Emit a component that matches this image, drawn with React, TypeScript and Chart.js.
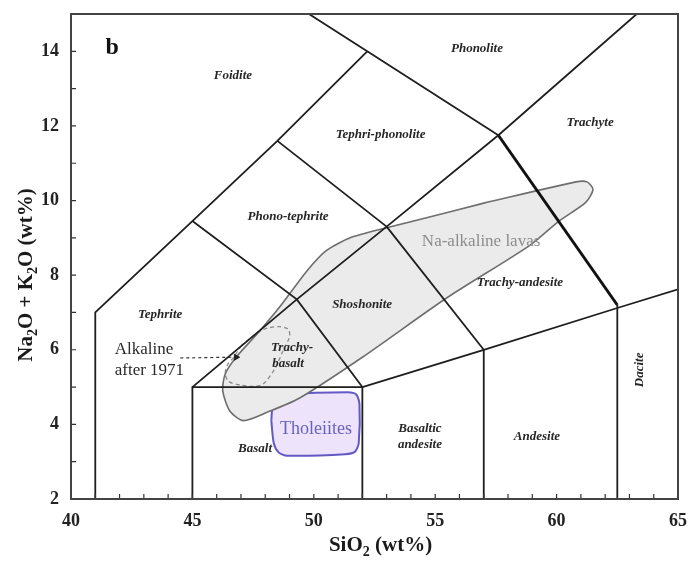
import React, { useEffect, useRef } from "react";
import { Chart, registerables } from "chart.js";

Chart.register(...registerables);

const SERIF = "'Liberation Serif', 'Times New Roman', serif";

// axes
const xTickValues = [40, 45, 50, 55, 60, 65];
const yTickValues = [2, 4, 6, 8, 10, 12, 14];
const xMinorTicks = [41, 42, 43, 44, 45, 46, 47, 48, 49, 50, 51, 52, 53, 54, 55, 56, 57, 58, 59, 60, 61, 62, 63, 64];
const yMinorTicks = [3, 4, 5, 6, 7, 8, 9, 10, 11, 12, 13, 14];

// TAS field boundaries (SiO2, Na2O+K2O)
const boundaryFoidite = [[41, 2], [41, 7], [45, 9.45], [48.5, 11.6], [52.2, 14]];
const boundaryPhonolite = [[49.8, 15], [52.2, 14], [57.6, 11.75]];
const boundaryPhonoTephrite = [[48.5, 11.6], [53, 9.3]];
const boundaryTephrite = [[45, 9.45], [49.3, 7.35], [52, 5]];
const boundaryAlkaline = [[45, 5], [49.3, 7.35], [53, 9.3], [57.6, 11.75], [63.3, 15]];
const boundaryShoshonite = [[53, 9.3], [57, 6]];
const boundaryBasalt = [[45, 2], [45, 5], [52, 5], [52, 2]];
const boundarySubalkaline = [[52, 5], [57, 6], [62.5, 7.12], [65, 7.62]];
const boundaryAndesite = [[57, 2], [57, 6]];
const boundaryDacite = [[62.5, 2], [62.5, 7.2]];
const boundaryTrachyte = [[57.6, 11.75], [62.5, 7.2]];

// outlined fields
const naAlkalineLavas = [
  [57, 9.93], [60.8, 10.5], [61.25, 10.5], [61.5, 10.3], [61.2, 9.95], [60.1, 9.45], [58.9, 8.8],
  [55.5, 7.4], [52, 5.8], [49.4, 4.7], [48.1, 4.33], [47.1, 4.1], [46.55, 4.35], [46.25, 4.9],
  [46.35, 5.35], [46.8, 5.8], [47.7, 6.45], [48.6, 7.15], [49.7, 8.1], [50.5, 8.65], [51.5, 9.0],
  [53, 9.27], [54.4, 9.5], [57, 9.93],
];
const alkalineAfter1971 = [
  [47.0, 6.1], [47.66, 6.45], [48.1, 6.58], [48.6, 6.62], [48.95, 6.55], [49.0, 6.35], [48.75, 6.0],
  [48.4, 5.5], [47.95, 5.1], [47.6, 5.02], [47.0, 5.05], [46.5, 5.15], [46.35, 5.35], [46.45, 5.6],
  [46.7, 5.8], [47.0, 6.1],
];
const tholeiites = [
  [48.25, 4.1], [48.3, 4.45], [48.5, 4.7], [48.9, 4.8], [51.4, 4.86], [51.75, 4.8], [51.88, 4.55],
  [51.85, 3.5], [51.7, 3.27], [51.3, 3.2], [48.9, 3.16], [48.55, 3.25], [48.35, 3.5], [48.25, 4.1],
];
const arrowLine = [[44.5, 5.78], [46.7, 5.8]];
const arrowHead = [[46.8, 5.8]];

// labels (text, SiO2, Na2O+K2O)
const fieldNames = ["Foidite", "Phonolite", "Tephri-phonolite", "Trachyte", "Phono-tephrite", "Shoshonite", "Trachy-andesite", "Tephrite", "Trachy-", "basalt", "Basalt", "Basaltic", "andesite", "Andesite"];
const fieldX = [46.67, 56.72, 52.75, 61.38, 48.94, 51.99, 58.49, 43.67, 49.1, 48.94, 47.58, 54.37, 54.37, 59.19];
const fieldY = [13.34, 14.06, 11.76, 12.08, 9.56, 7.2, 7.79, 6.93, 6.05, 5.62, 3.34, 3.88, 3.45, 3.66];

const pts = (a: number[][]) => a.map(([x, y]) => ({ x, y }));

function lineSet(a: number[][], width = 1.8, color = "#1e1e1e") {
  return {
    data: pts(a),
    showLine: true,
    borderColor: color,
    borderWidth: width,
    pointRadius: 0,
    fill: false,
    tension: 0,
    order: 1,
  };
}

const overlayPlugin = {
  id: "overlay",
  afterDatasetsDraw(chart: any) {
    const { ctx, chartArea: a, scales } = chart;
    const sx = scales.x, sy = scales.y;
    ctx.save();
    // inward ticks
    ctx.strokeStyle = "#333";
    ctx.lineWidth = 1.2;
    ctx.beginPath();
    xMinorTicks.forEach((v) => {
      const px = sx.getPixelForValue(v);
      ctx.moveTo(px, a.bottom);
      ctx.lineTo(px, a.bottom - 5);
    });
    yMinorTicks.forEach((v) => {
      const py = sy.getPixelForValue(v);
      ctx.moveTo(a.left, py);
      ctx.lineTo(a.left + 5, py);
    });
    ctx.stroke();
    // frame
    ctx.strokeStyle = "#444";
    ctx.lineWidth = 2;
    ctx.strokeRect(a.left, a.top, a.right - a.left, a.bottom - a.top);

    // field labels
    ctx.fillStyle = "#262626";
    ctx.font = `italic bold 13px ${SERIF}`;
    ctx.textAlign = "center";
    ctx.textBaseline = "middle";
    fieldNames.forEach((t, i) => {
      ctx.fillText(t, sx.getPixelForValue(fieldX[i]), sy.getPixelForValue(fieldY[i]));
    });
    // Dacite rotated
    ctx.save();
    ctx.translate(sx.getPixelForValue(63.43), sy.getPixelForValue(5.46));
    ctx.rotate(-Math.PI / 2);
    ctx.fillText("Dacite", 0, 0);
    ctx.restore();

    // annotations
    ctx.font = `17px ${SERIF}`;
    ctx.fillStyle = "#8c8c8c";
    ctx.fillText("Na-alkaline lavas", sx.getPixelForValue(56.89), sy.getPixelForValue(8.89));
    ctx.font = `18px ${SERIF}`;
    ctx.fillStyle = "#6a62bd";
    ctx.fillText("Tholeiites", sx.getPixelForValue(50.09), sy.getPixelForValue(3.88));
    ctx.font = `17px ${SERIF}`;
    ctx.fillStyle = "#2a2a2a";
    ctx.textAlign = "left";
    ctx.fillText("Alkaline", sx.getPixelForValue(41.8), sy.getPixelForValue(6.0));
    ctx.fillText("after 1971", sx.getPixelForValue(41.8), sy.getPixelForValue(5.45));
    ctx.textAlign = "center";
    ctx.font = `bold 24px ${SERIF}`;
    ctx.fillStyle = "#111";
    ctx.fillText("b", sx.getPixelForValue(41.7), sy.getPixelForValue(14.1));

    // axis titles with subscripts
    const drawSub = (parts: [string, boolean][], big: number, small: number) => {
      let w = 0;
      parts.forEach(([s, sub]) => {
        ctx.font = `bold ${sub ? small : big}px ${SERIF}`;
        w += ctx.measureText(s).width;
      });
      let x = -w / 2;
      ctx.textAlign = "left";
      parts.forEach(([s, sub]) => {
        ctx.font = `bold ${sub ? small : big}px ${SERIF}`;
        ctx.fillText(s, x, sub ? 6 : 0);
        x += ctx.measureText(s).width;
      });
    };
    ctx.fillStyle = "#1a1a1a";
    ctx.textBaseline = "middle";
    ctx.save();
    ctx.translate((a.left + a.right) / 2 + 6, a.bottom + 47);
    drawSub([["SiO", false], ["2", true], [" (wt%)", false]], 21, 14);
    ctx.restore();
    ctx.save();
    ctx.translate(27, 275);
    ctx.rotate(-Math.PI / 2);
    drawSub([["Na", false], ["2", true], ["O + K", false], ["2", true], ["O (wt%)", false]], 21, 14);
    ctx.restore();
    ctx.restore();
  },
};

const zeroPad = (s: any) => {
  s.paddingLeft = 0;
  s.paddingRight = 0;
  s.paddingTop = 0;
  s.paddingBottom = 0;
};

export default function App() {
  const ref = useRef<HTMLCanvasElement>(null);
  useEffect(() => {
    if (!ref.current) return;
    const tickFont = { family: SERIF, size: 18, weight: "bold" as const };
    const chart = new Chart(ref.current, {
      type: "scatter",
      data: {
        datasets: [
          lineSet(boundaryFoidite),
          lineSet(boundaryPhonolite),
          lineSet(boundaryPhonoTephrite),
          lineSet(boundaryTephrite),
          lineSet(boundaryAlkaline),
          lineSet(boundaryShoshonite),
          lineSet(boundaryBasalt),
          lineSet(boundarySubalkaline),
          lineSet(boundaryAndesite),
          lineSet(boundaryDacite),
          lineSet(boundaryTrachyte, 3, "#111"),
          {
            data: pts(arrowLine),
            showLine: true,
            borderColor: "#333",
            borderWidth: 1.2,
            borderDash: [3, 3],
            pointRadius: 0,
            fill: false,
            order: 1,
          },
          {
            data: pts(arrowHead),
            showLine: false,
            pointStyle: "triangle",
            rotation: 90,
            pointRadius: 3.5,
            backgroundColor: "#222",
            borderColor: "#222",
            borderWidth: 1,
            order: 1,
          },
          {
            data: pts(alkalineAfter1971),
            showLine: true,
            borderColor: "#8a8a8a",
            borderWidth: 1.3,
            borderDash: [4, 3],
            pointRadius: 0,
            fill: false,
            tension: 0.3,
            order: 5,
          },
          {
            data: pts(naAlkalineLavas),
            showLine: true,
            borderColor: "#6e6e6e",
            borderWidth: 1.6,
            backgroundColor: "#ebebeb",
            pointRadius: 0,
            fill: "shape",
            tension: 0.25,
            order: 10,
          },
          {
            data: pts(tholeiites),
            showLine: true,
            borderColor: "#6259c2",
            borderWidth: 2,
            backgroundColor: "#ede4fb",
            pointRadius: 0,
            fill: "shape",
            tension: 0.25,
            order: 10,
          },
        ] as any,
      },
      options: {
        responsive: false,
        animation: false,
        layout: { padding: { top: 14, right: 11, left: 0, bottom: 0 } },
        plugins: { legend: { display: false }, tooltip: { enabled: false } },
        scales: {
          x: {
            type: "linear",
            min: 40,
            max: 65,
            afterBuildTicks: (s: any) => {
              s.ticks = xTickValues.map((v) => ({ value: v }));
            },
            afterFit: (s: any) => {
              s.height = 63;
              zeroPad(s);
            },
            grid: { display: false, drawTicks: false },
            border: { display: false },
            ticks: { font: tickFont, color: "#222", padding: 12, maxRotation: 0, autoSkip: false },
          },
          y: {
            type: "linear",
            min: 2,
            max: 15,
            afterBuildTicks: (s: any) => {
              s.ticks = yTickValues.map((v) => ({ value: v }));
            },
            afterFit: (s: any) => {
              s.width = 71;
              zeroPad(s);
            },
            grid: { display: false, drawTicks: false },
            border: { display: false },
            ticks: { font: tickFont, color: "#222", padding: 12, autoSkip: false },
          },
        },
      } as any,
      plugins: [overlayPlugin],
    });
    return () => chart.destroy();
  }, []);
  return (
    <div style={{ position: "absolute", left: 0, top: 0, width: 689, height: 562, background: "#fff" }}>
      <canvas ref={ref} width={689} height={562} style={{ display: "block" }} />
    </div>
  );
}
